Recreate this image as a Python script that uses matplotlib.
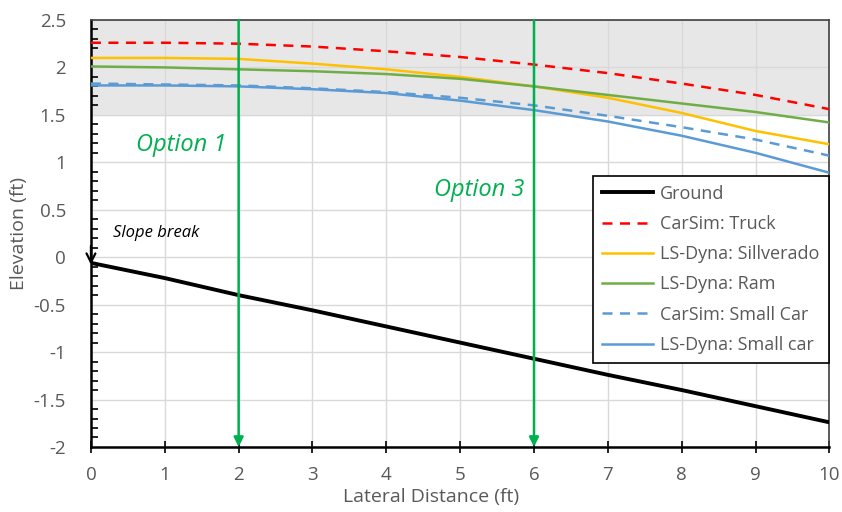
import matplotlib
matplotlib.use("Agg")
import matplotlib.pyplot as plt
import numpy as np

#<------------------------- Data ------------------------------------------>
dist = [0, 1, 2, 3, 4, 5, 6, 7, 8, 9, 10]
ground = [-0.06, -0.22, -0.40, -0.56, -0.73, -0.90, -1.07, -1.24, -1.40, -1.57, -1.74]
truck = [2.26, 2.26, 2.25, 2.22, 2.17, 2.11, 2.03, 1.94, 1.83, 1.71, 1.56]
silverado = [2.10, 2.10, 2.09, 2.04, 1.98, 1.90, 1.80, 1.68, 1.52, 1.33, 1.19]
ram = [2.01, 2.00, 1.98, 1.96, 1.93, 1.88, 1.80, 1.71, 1.62, 1.53, 1.42]
carsim_small = [1.83, 1.82, 1.81, 1.78, 1.74, 1.68, 1.60, 1.49, 1.37, 1.24, 1.07]
lsdyna_small = [1.81, 1.81, 1.80, 1.77, 1.73, 1.65, 1.55, 1.43, 1.28, 1.10, 0.89]
options = [2, 6]
option_labels = ["Option 1", "Option 3"]

#<------------------------- Plot ------------------------------------------>
plt.rcParams['font.family'] = ['Open Sans', 'DejaVu Sans']
fig = plt.figure(figsize=(8.42, 5.12), dpi=100)
ax = fig.add_axes([0.108, 0.127, 0.877, 0.834])

ax.axhspan(1.5, 2.5, color='#e7e7e7', zorder=0)
ax.grid(True, color='#d9d9d9', lw=1, zorder=1)
ax.set_axisbelow(True)

ax.plot(dist, ground, color='black', lw=2.8, label='Ground', zorder=4)
ax.plot(dist, truck, color='#ff0000', lw=1.8, ls=(0, (4, 3)), label='CarSim: Truck', zorder=4)
ax.plot(dist, silverado, color='#ffc000', lw=1.8, label='LS-Dyna: Sillverado', zorder=4)
ax.plot(dist, ram, color='#70ad47', lw=1.8, label='LS-Dyna: Ram', zorder=4)
ax.plot(dist, carsim_small, color='#5b9bd5', lw=1.8, ls=(0, (4, 3)), label='CarSim: Small Car', zorder=4)
ax.plot(dist, lsdyna_small, color='#5b9bd5', lw=1.8, label='LS-Dyna: Small car', zorder=4)

# option arrows
for xo in options:
    ax.annotate('', xy=(xo, -2.0), xytext=(xo, 2.5),
                arrowprops=dict(arrowstyle='-|>', color='#00b050', lw=1.8,
                                mutation_scale=14, shrinkA=0, shrinkB=0), zorder=5)
ax.text(1.22, 1.18, option_labels[0], color='#00b050', fontsize=17, style='italic',
        ha='center', va='center', zorder=6)
ax.text(5.26, 0.71, option_labels[1], color='#00b050', fontsize=17, style='italic',
        ha='center', va='center', zorder=6)

# slope break
ax.annotate('', xy=(0, -0.08), xytext=(0, 0.12),
            arrowprops=dict(arrowstyle='->', color='black', lw=1.6, shrinkA=0, shrinkB=0,
                            mutation_scale=16),
            zorder=6)
ax.text(0.3, 0.25, 'Slope break', fontsize=12, style='italic', ha='left', va='center')

ax.set_xlim(0, 10)
ax.set_ylim(-2, 2.5)
ax.set_xticks(np.arange(0, 11, 1))
ax.set_yticks(np.arange(-2, 2.51, 0.5))
ax.set_yticks(np.arange(-2, 2.51, 0.1), minor=True)
ax.set_yticklabels(['-2', '-1.5', '-1', '-0.5', '0', '0.5', '1', '1.5', '2', '2.5'])
ax.tick_params(axis='both', labelsize=13.5, labelcolor='#595959')
ax.tick_params(axis='y', which='major', direction='in', length=0, pad=18)
ax.tick_params(axis='y', which='minor', direction='in', length=5, width=1.2)
ax.tick_params(axis='x', which='major', direction='inout', length=8, width=1.2, pad=10)

for s in ['left', 'bottom']:
    ax.spines[s].set_linewidth(1.8)
    ax.spines[s].set_color('black')
for s in ['top', 'right']:
    ax.spines[s].set_linewidth(1.2)
    ax.spines[s].set_color('#404040')

ax.set_xlabel('Lateral Distance (ft)', fontsize=14, color='#595959')
ax.xaxis.set_label_coords(0.46, -0.095)
ax.set_ylabel('Elevation (ft)', fontsize=14, color='#595959')
ax.yaxis.set_label_coords(-0.085, 0.5)

leg = ax.legend(loc='center right', bbox_to_anchor=(0.999, 0.416), borderaxespad=0,
                fontsize=13, frameon=True, fancybox=False, edgecolor='black',
                framealpha=1, handlelength=2.8, labelspacing=0.68, borderpad=0.5,
                handletextpad=0.4)
leg.get_frame().set_linewidth(1.2)
for t in leg.get_texts():
    t.set_color('#595959')

fig.savefig('out.png', dpi=100)
